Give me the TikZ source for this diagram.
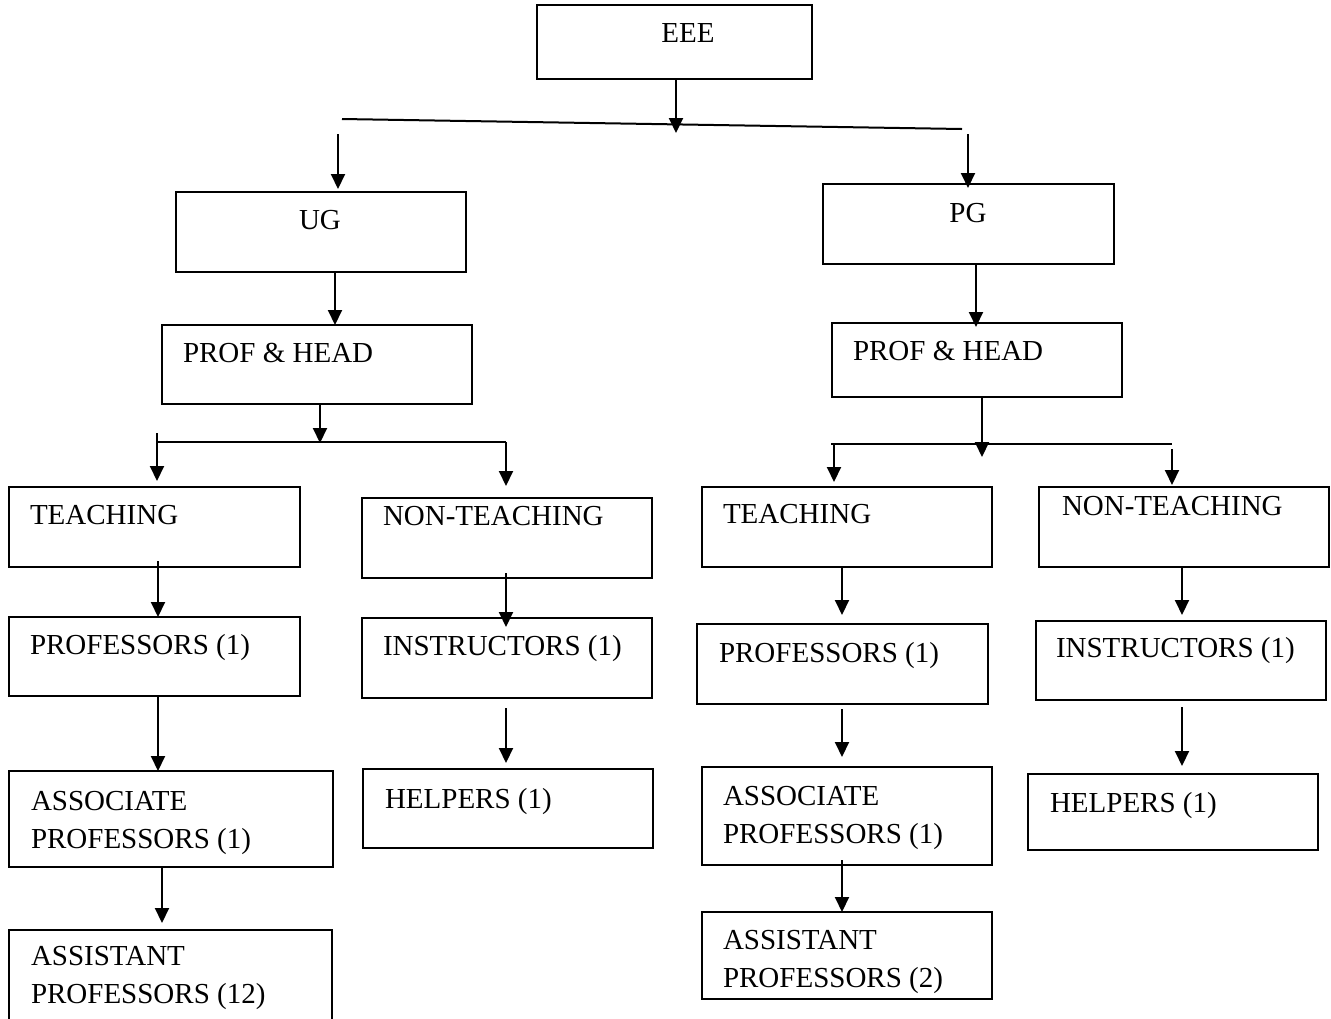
\documentclass[tikz,border=0pt]{standalone}
\usepackage{fontspec}
\setmainfont{Liberation Serif}
\usetikzlibrary{arrows.meta,calc}
\newcommand\mybox[5]{\node[box,minimum width={(#4-#2)*1pt},minimum height={(#5-#3)*1pt}] (#1) at ({(#2+#4)/2},{(#3+#5)/2}) {};}
\begin{document}
\begin{tikzpicture}[x=1pt,y=-1pt,
  box/.style={draw,line width=2pt,inner sep=0pt,outer sep=0pt},
  txt/.style={inner sep=0pt,outer sep=0pt,font=\fontsize{29}{38}\selectfont},
  arr/.style={line width=2pt,-{Triangle[length=15pt,width=14pt]}},
  bus/.style={line width=2pt}]
\useasboundingbox (0,0) rectangle (1331,1018);
\clip (0,0) rectangle (1331,1018);
\fill[white] (0,0) rectangle (1331,1018);
% boxes
\mybox{eee}{537}{5}{812}{79}
\mybox{ug}{176}{192}{466}{272}
\mybox{pg}{823}{184}{1114}{264}
\mybox{lph}{162}{325}{472}{404}
\mybox{rph}{832}{323}{1122}{397}
\mybox{lt}{9}{487}{300}{567}
\mybox{lnt}{362}{498}{652}{578}
\mybox{lp}{9}{617}{300}{696}
\mybox{li}{362}{618}{652}{698}
\mybox{la}{9}{771}{333}{867}
\mybox{lh}{363}{769}{653}{848}
\mybox{las}{9}{930}{332}{1040}
\mybox{rt}{702}{487}{992}{567}
\mybox{rnt}{1039}{487}{1329}{567}
\mybox{rp}{697}{624}{988}{704}
\mybox{ri}{1036}{621}{1326}{700}
\mybox{ra}{702}{767}{992}{865}
\mybox{rh}{1028}{774}{1318}{850}
\mybox{ras}{702}{912}{992}{999}
% texts
\node[txt,anchor=base] (eee-t) at (688,42) {EEE};
\node[txt,anchor=base] (ug-t) at (320,229) {UG};
\node[txt,anchor=base] (pg-t) at (968,222) {PG};
\node[txt,anchor=base west] (lph-t) at (183,362) {PROF \& HEAD};
\node[txt,anchor=base west] (rph-t) at (853,360) {PROF \& HEAD};
\node[txt,anchor=base west] (lt-t) at (30,524) {TEACHING};
\node[txt,anchor=base west] (lnt-t) at (383,525) {NON-TEACHING};
\node[txt,anchor=base west] (lp-t) at (30,654) {PROFESSORS (1)};
\node[txt,anchor=base west] (li-t) at (383,655) {INSTRUCTORS (1)};
\node[txt,anchor=base west] (la-t1) at (31,810) {ASSOCIATE};
\node[txt,anchor=base west] (la-t2) at (31,848) {PROFESSORS (1)};
\node[txt,anchor=base west] (lh-t) at (385,808) {HELPERS (1)};
\node[txt,anchor=base west] (las-t1) at (31,965) {ASSISTANT};
\node[txt,anchor=base west] (las-t2) at (31,1003) {PROFESSORS (12)};
\node[txt,anchor=base west] (rt-t) at (723,523) {TEACHING};
\node[txt,anchor=base west] (rnt-t) at (1062,515) {NON-TEACHING};
\node[txt,anchor=base west] (rp-t) at (719,662) {PROFESSORS (1)};
\node[txt,anchor=base west] (ri-t) at (1056,657) {INSTRUCTORS (1)};
\node[txt,anchor=base west] (ra-t1) at (723,805) {ASSOCIATE};
\node[txt,anchor=base west] (ra-t2) at (723,843) {PROFESSORS (1)};
\node[txt,anchor=base west] (rh-t) at (1050,812) {HELPERS (1)};
\node[txt,anchor=base west] (ras-t1) at (723,949) {ASSISTANT};
\node[txt,anchor=base west] (ras-t2) at (723,987) {PROFESSORS (2)};
% bus coordinates
\coordinate (tb1) at (342,119);
\coordinate (tb2) at (962,129);
\coordinate (lb1) at (157,442);
\coordinate (lb2) at (506,442);
\coordinate (rb1) at (831,444);
\coordinate (rb2) at (1172,444);
% top level
\draw[arr] (eee.south -| 676,0) -- (676,133);
\draw[bus] (tb1) -- (tb2);
\draw[arr] (338,134) -- ($(ug.north -| 338,0)+(0,-3)$);
\draw[arr] (968,134) -- ($(pg.north -| 968,0)+(0,4)$);
\draw[arr] (ug.south -| 335,0) -- (lph.north -| 335,0);
\draw[arr] (pg.south -| 976,0) -- ($(rph.north -| 976,0)+(0,4)$);
% left branch
\draw[arr] (lph.south -| 320,0) -- (320,443);
\draw[bus] (lb1) -- (lb2);
\draw[arr] (157,433) -- (157,481);
\draw[arr] (lb2) -- (506,486);
\draw[arr] ($(lt.south -| 158,0)+(0,-6)$) -- (lp.north -| 158,0);
\draw[arr] (lp.south -| 158,0) -- (la.north -| 158,0);
\draw[arr] (la.south -| 162,0) -- ($(las.north -| 162,0)+(0,-7)$);
\draw[arr] ($(lnt.south -| 506,0)+(0,-5)$) -- ($(li.north -| 506,0)+(0,9)$);
\draw[arr] ($(li.south -| 506,0)+(0,10)$) -- ($(lh.north -| 506,0)+(0,-6)$);
% right branch
\draw[arr] (rph.south -| 982,0) -- (982,457);
\draw[bus] (rb1) -- (rb2);
\draw[arr] (834,444) -- (834,482);
\draw[arr] (1172,449) -- (1172,485);
\draw[arr] (rt.south -| 842,0) -- ($(rp.north -| 842,0)+(0,-9)$);
\draw[arr] ($(rp.south -| 842,0)+(0,5)$) -- ($(ra.north -| 842,0)+(0,-10)$);
\draw[arr] ($(ra.south -| 842,0)+(0,-5)$) -- (ras.north -| 842,0);
\draw[arr] (rnt.south -| 1182,0) -- ($(ri.north -| 1182,0)+(0,-6)$);
\draw[arr] ($(ri.south -| 1182,0)+(0,7)$) -- ($(rh.north -| 1182,0)+(0,-8)$);
\end{tikzpicture}
\end{document}
